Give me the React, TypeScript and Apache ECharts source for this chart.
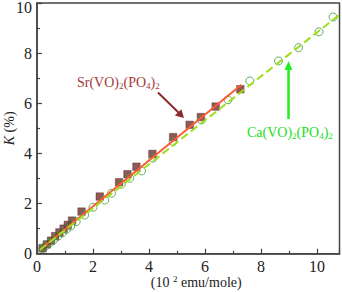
import React, { useEffect, useRef } from "react";
import * as echarts from "echarts";

const srX = [0.2, 0.35, 0.5, 0.65, 0.8, 0.95, 1.1, 1.25, 1.59, 2.24, 2.93, 3.23, 3.55, 4.12, 4.86, 5.45, 5.85, 6.38, 7.26];
const srY = [0.22, 0.37, 0.52, 0.7, 0.85, 1.0, 1.15, 1.32, 1.68, 2.28, 2.85, 3.17, 3.47, 3.98, 4.65, 5.14, 5.45, 5.87, 6.56];
const caX = [0.2, 0.3, 0.45, 0.6, 0.75, 0.9, 1.05, 1.2, 1.4, 1.7, 2.0, 2.42, 2.66, 3.01, 3.31, 3.73, 4.14, 4.86, 5.87, 6.82, 7.6, 8.62, 9.34, 10.07, 10.57];
const caY = [0.2, 0.3, 0.43, 0.56, 0.7, 0.83, 0.97, 1.1, 1.28, 1.54, 1.85, 2.14, 2.41, 2.77, 3.01, 3.3, 3.81, 4.47, 5.34, 6.14, 6.89, 7.69, 8.22, 8.85, 9.44];
const srFitX = [0.15, 7.3];
const srFitY = [0.2, 6.74];
const caFitX = [0.1, 10.8];
const caFitY = [0.15, 9.53];
const xTicks = [0, 2, 4, 6, 8, 10];
const yTicks = [0, 2, 4, 6, 8, 10];

const zip = (a: number[], b: number[]) => a.map((v, i) => [v, b[i]]);
const FONT = "'Liberation Serif', 'Times New Roman', serif";

export default function App() {
  const ref = useRef<HTMLDivElement>(null);
  useEffect(() => {
    if (!ref.current) return;
    const chart = echarts.init(ref.current, null, { renderer: "svg" });
    const axisCommon = {
      axisLine: { show: true, lineStyle: { color: "#444", width: 1.5 } },
      axisTick: { show: true, inside: true, length: 5, lineStyle: { color: "#444", width: 1.2 } },
      minorTick: { show: true, splitNumber: 2, length: 3, lineStyle: { color: "#444", width: 1.2 } },
      splitLine: { show: false },
      axisLabel: { fontFamily: FONT, fontSize: 16, color: "#222", margin: 5 },
      nameMoveOverlap: false,
    };
    chart.setOption({
      animation: false,
      grid: {
        left: 37,
        top: 3,
        right: 2.5,
        bottom: 38.3,
        show: true,
        borderColor: "#444",
        borderWidth: 1.5,
        containLabel: false,
        outerBoundsMode: "none",
      },
      xAxis: {
        type: "value",
        min: 0,
        max: 10.8,
        interval: 2,
        ...axisCommon,
        axisLabel: {
          ...axisCommon.axisLabel,
          showMaxLabel: false,
          formatter: (v: number) => (xTicks.includes(v) ? String(v) : ""),
        },
        name: "(10 {sup|2} emu/mole)",
        nameLocation: "middle",
        nameGap: 21,
        nameTextStyle: {
          fontFamily: FONT,
          fontSize: 14,
          color: "#222",
          lineHeight: 16,
          padding: [0, 0, 0, 16],
          rich: {
            sup: { fontFamily: FONT, fontSize: 9, color: "#222", lineHeight: 10, verticalAlign: "top" },
          },
        },
      },
      yAxis: {
        type: "value",
        min: 0,
        max: 10,
        interval: 2,
        ...axisCommon,
        axisLabel: {
          ...axisCommon.axisLabel,
          lineHeight: 8,
          verticalAlignMaxLabel: "top",
          formatter: (v: number) => (yTicks.includes(v) ? String(v) : ""),
        },
        name: "{i|K} (%)",
        nameLocation: "middle",
        nameGap: 21,
        nameTextStyle: {
          fontFamily: FONT,
          fontSize: 14,
          color: "#222",
          rich: {
            i: { fontFamily: FONT, fontSize: 14, fontStyle: "italic", color: "#222" },
          },
        },
      },
      series: [
        {
          type: "scatter",
          name: "Sr(VO)2(PO4)2",
          data: zip(srX, srY),
          symbol: "rect",
          symbolSize: 7.5,
          itemStyle: { color: "#723030", borderColor: "#552020", borderWidth: 0.5 },
          z: 2,
        },
        {
          type: "scatter",
          name: "Ca(VO)2(PO4)2",
          data: zip(caX, caY),
          symbol: "circle",
          symbolSize: 8,
          itemStyle: { color: "rgba(0,0,0,0)", borderColor: "#3f9a3f", borderWidth: 1 },
          z: 3,
        },
        {
          type: "line",
          name: "Sr fit",
          data: zip(srFitX, srFitY),
          symbol: "none",
          lineStyle: { color: "#ff5a36", width: 2 },
          z: 4,
        },
        {
          type: "line",
          name: "Ca fit",
          data: zip(caFitX, caFitY),
          symbol: "none",
          lineStyle: { color: "#9be01a", width: 2, type: [8, 4] },
          z: 5,
        },
      ],
      graphic: [
        {
          type: "text",
          x: 77,
          y: 74,
          style: {
            text: "Sr(VO){s|2}(PO{s|4}){s|2}",
            fill: "#a33a3a",
            fontFamily: FONT,
            fontSize: 14,
            verticalAlign: "top",
            lineHeight: 16,
            rich: {
              s: { fontFamily: FONT, fontSize: 9, fill: "#a33a3a", lineHeight: 10, verticalAlign: "bottom" },
            },
          },
        },
        {
          type: "line",
          shape: { x1: 158, y1: 92.5, x2: 180, y2: 114 },
          style: { stroke: "#8a2c2c", lineWidth: 2 },
        },
        {
          type: "polygon",
          shape: { points: [[184, 118], [174.8, 115.6], [181.4, 109.2]] },
          style: { fill: "#8a2c2c" },
        },
        {
          type: "text",
          x: 247,
          y: 124,
          style: {
            text: "Ca(VO){s|2}(PO{s|4}){s|2}",
            fill: "#22dd22",
            fontFamily: FONT,
            fontSize: 14,
            verticalAlign: "top",
            lineHeight: 16,
            rich: {
              s: { fontFamily: FONT, fontSize: 9, fill: "#22dd22", lineHeight: 10, verticalAlign: "bottom" },
            },
          },
        },
        {
          type: "line",
          shape: { x1: 288.5, y1: 119, x2: 288.5, y2: 68 },
          style: { stroke: "#22ee22", lineWidth: 2.5 },
        },
        {
          type: "polygon",
          shape: { points: [[288.5, 61], [284.5, 70], [292.5, 70]] },
          style: { fill: "#22ee22" },
        },
      ],
    });
    return () => chart.dispose();
  }, []);
  return (
    <div
      ref={ref}
      style={{ position: "absolute", left: 0, top: 0, width: 342, height: 292, background: "#fff" }}
    />
  );
}
